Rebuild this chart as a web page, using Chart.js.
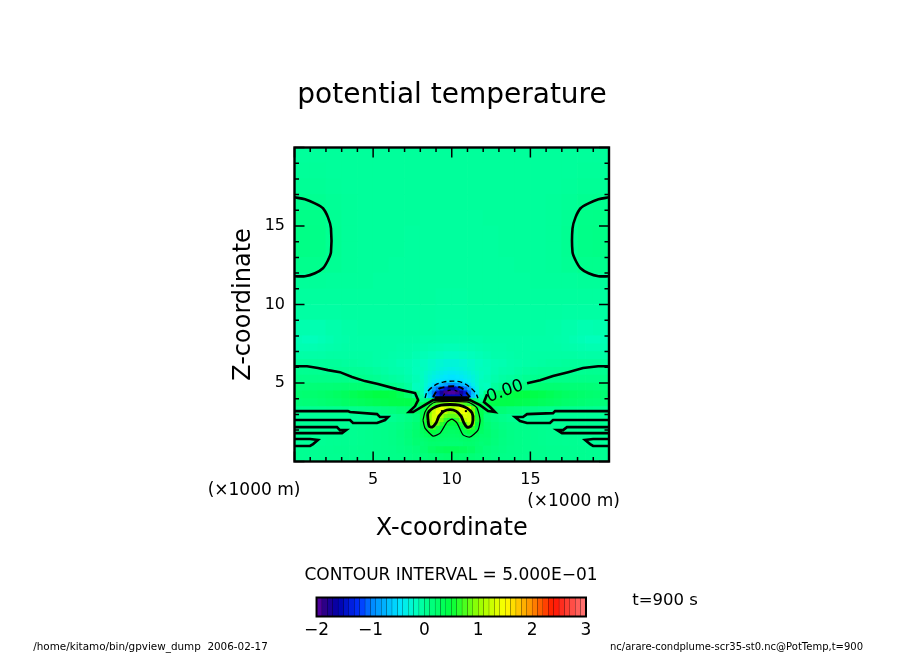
<!DOCTYPE html>
<html>
<head>
<meta charset="utf-8">
<title>potential temperature</title>
<script src="https://cdn.jsdelivr.net/npm/chart.js@4"></script>
<style>
  html, body { margin: 0; padding: 0; background: #fff; overflow: hidden; }
  #plot { position: absolute; left: 0; top: 0; }
  #bar { position: absolute; left: 300px; top: 585px; }
</style>
</head>
<body>
<canvas id="plot" width="904" height="654"></canvas>
<canvas id="bar" width="300" height="60"></canvas>
<script>
// Field values. Rows run from the top of the plot down.
const coarseX = [.5,1.5,2.5,3.5,4.5,5.5,6.5,7.5,8.5,9.5,10.5,11.5,12.5,13.5,14.5,15.5,16.5,17.5,18.5,19.5];
const coarseZ = [19.5,18.5,17.5,16.5,15.5,14.5,13.5,12.5,11.5,10.5,9.5,8.5];
const coarseField = [
  [-.02,-.02,-.02,-.02,-.02,-.02,-.02,-.02,-.02,-.02,-.02,-.02,-.02,-.02,-.02,-.02,-.02,-.02,-.02,-.02],
  [-.01,-.01,-.02,-.02,-.02,-.02,-.02,-.02,-.02,-.02,-.02,-.02,-.02,-.02,-.02,-.02,-.02,-.02,-.01,-.01],
  [0,0,-.01,-.02,-.02,-.02,-.02,-.02,-.02,-.02,-.02,-.02,-.02,-.02,-.02,-.02,-.02,-.01,0,0],
  [.04,.03,0,-.01,-.02,-.02,-.02,-.02,-.02,-.02,-.02,-.02,-.02,-.02,-.02,-.02,-.01,0,.03,.04],
  [.08,.07,.01,-.01,-.02,-.02,-.02,-.02,-.03,-.03,-.03,-.03,-.02,-.02,-.02,-.02,-.01,.01,.07,.08],
  [.09,.08,.02,-.01,-.02,-.02,-.02,-.03,-.03,-.03,-.03,-.03,-.03,-.02,-.02,-.02,-.01,.02,.08,.09],
  [.09,.08,.02,-.01,-.02,-.02,-.02,-.03,-.03,-.03,-.03,-.03,-.03,-.02,-.02,-.02,-.01,.02,.08,.09],
  [.05,.05,.01,-.01,-.02,-.02,-.03,-.03,-.03,-.03,-.03,-.03,-.03,-.03,-.02,-.02,-.01,.01,.05,.05],
  [-.01,-.01,-.02,-.02,-.02,-.03,-.03,-.03,-.03,-.03,-.03,-.03,-.03,-.03,-.03,-.02,-.02,-.02,-.01,-.01],
  [-.03,-.03,-.03,-.03,-.03,-.03,-.03,-.03,-.03,-.04,-.04,-.03,-.03,-.03,-.03,-.03,-.03,-.03,-.03,-.03],
  [-.05,-.05,-.05,-.04,-.04,-.04,-.04,-.04,-.04,-.05,-.05,-.04,-.04,-.04,-.04,-.04,-.04,-.05,-.05,-.05],
  [-.09,-.1,-.08,-.06,-.05,-.05,-.05,-.05,-.05,-.06,-.06,-.05,-.05,-.05,-.05,-.05,-.06,-.08,-.1,-.09]
];

const midX = [.25,.75,1.25,1.75,2.25,2.75,3.25,3.75,4.25,4.75,5.25,5.75,6.25,6.75,7.25,7.75,8.25,8.75,9.25,9.75,
  10.25,10.75,11.25,11.75,12.25,12.75,13.25,13.75,14.25,14.75,15.25,15.75,16.25,16.75,17.25,17.75,18.25,18.75,19.25,19.75];
const midZ = [7.75,7.25,6.75,6.25,5.75,5.25,4.75,4.25,3.75,3.25,2.75,2.25,1.75,1.25,.75,.25];
const midField = [
  [-.12,-.14,-.14,-.12,-.1,-.08,-.07,-.06,-.06,-.06,-.06,-.06,-.06,-.06,-.06,-.06,-.07,-.07,-.08,-.08,-.08,-.08,-.07,-.07,-.06,-.06,-.06,-.06,-.06,-.06,-.06,-.06,-.06,-.07,-.08,-.1,-.12,-.14,-.14,-.12],
  [-.1,-.1,-.1,-.09,-.08,-.07,-.06,-.06,-.06,-.06,-.06,-.06,-.06,-.07,-.07,-.08,-.09,-.1,-.11,-.12,-.12,-.11,-.1,-.09,-.08,-.07,-.07,-.06,-.06,-.06,-.06,-.06,-.06,-.06,-.07,-.08,-.09,-.1,-.1,-.1],
  [-.06,-.06,-.06,-.06,-.05,-.05,-.05,-.05,-.05,-.05,-.06,-.06,-.07,-.08,-.08,-.1,-.12,-.14,-.16,-.18,-.18,-.16,-.14,-.12,-.1,-.08,-.08,-.07,-.06,-.06,-.05,-.05,-.05,-.05,-.05,-.05,-.06,-.06,-.06,-.06],
  [-.02,-.02,-.02,-.02,-.02,-.02,-.03,-.03,-.04,-.05,-.06,-.07,-.08,-.1,-.11,-.13,-.16,-.2,-.24,-.27,-.27,-.24,-.2,-.16,-.13,-.11,-.1,-.08,-.07,-.06,-.05,-.04,-.03,-.03,-.02,-.02,-.02,-.02,-.02,-.02],
  [.03,.03,.03,.02,.02,.01,.01,0,0,-.01,-.03,-.05,-.07,-.08,-.1,-.14,-.2,-.3,-.4,-.45,-.45,-.4,-.3,-.2,-.14,-.1,-.08,-.07,-.05,-.03,-.01,0,0,.01,.01,.02,.02,.03,.03,.03],
  [.08,.08,.08,.08,.08,.07,.07,.06,.06,.04,.02,-.01,-.03,-.05,-.08,-.12,-.3,-.5,-.7,-.8,-.8,-.7,-.5,-.3,-.12,-.08,-.05,-.03,-.01,.02,.04,.06,.06,.07,.07,.08,.08,.08,.08,.08],
  [.15,.16,.17,.18,.18,.19,.2,.2,.2,.18,.14,.1,.06,.02,-.03,-.15,-.5,-.9,-1.3,-1.5,-1.5,-1.3,-.9,-.5,-.15,-.03,.02,.06,.1,.14,.18,.2,.2,.2,.19,.18,.18,.17,.16,.15],
  [.2,.21,.22,.24,.26,.29,.32,.36,.4,.43,.46,.46,.44,.36,.25,.1,-.5,-1.2,-1.8,-1.9,-1.9,-1.8,-1.2,-.5,.1,.25,.36,.44,.46,.46,.43,.4,.36,.32,.29,.26,.24,.22,.21,.2],
  [.16,.17,.18,.2,.22,.24,.27,.3,.32,.35,.38,.4,.42,.42,.42,.4,.6,.9,1.1,1.2,1.2,1.1,.9,.6,.4,.42,.42,.42,.4,.38,.35,.32,.3,.27,.24,.22,.2,.18,.17,.16],
  [.02,.02,.03,.03,.04,.04,.05,.05,.06,.08,.1,.12,.14,.18,.2,.25,.5,.9,1.2,1.4,1.4,1.2,.9,.5,.25,.2,.18,.14,.12,.1,.08,.06,.05,.05,.04,.04,.03,.03,.02,.02],
  [-.01,-.01,-.01,-.01,-.01,-.01,-.01,-.01,-.01,-.01,-.01,0,.03,.06,.1,.15,.3,.6,1,1.3,1.3,1,.6,.3,.15,.1,.06,.03,0,-.01,-.01,-.01,-.01,-.01,-.01,-.01,-.01,-.01,-.01,-.01],
  [.01,.01,.01,.01,.01,.01,.01,.02,.03,.04,.05,.06,.08,.1,.14,.2,.35,.7,1.1,1.3,1.3,1.1,.7,.35,.2,.14,.1,.08,.06,.05,.04,.03,.02,.01,.01,.01,.01,.01,.01,.01],
  [.01,.01,.01,.01,.02,.02,.03,.03,.04,.05,.06,.07,.09,.12,.16,.22,.35,.6,.8,.9,.9,.8,.6,.35,.22,.16,.12,.09,.07,.06,.05,.04,.03,.03,.02,.02,.01,.01,.01,.01],
  [-.01,-.01,-.01,.01,.02,.02,.03,.03,.04,.05,.06,.07,.09,.11,.15,.2,.3,.45,.55,.55,.55,.55,.45,.3,.2,.15,.11,.09,.07,.06,.05,.04,.03,.03,.02,.02,.01,-.01,-.01,-.01],
  [.02,.02,.02,.03,.03,.04,.04,.04,.05,.05,.06,.07,.08,.1,.12,.15,.2,.28,.32,.35,.35,.32,.28,.2,.15,.12,.1,.08,.07,.06,.05,.05,.04,.04,.04,.03,.03,.02,.02,.02],
  [.02,.02,.02,.03,.03,.03,.04,.04,.04,.05,.05,.06,.07,.08,.1,.12,.15,.18,.2,.22,.22,.2,.18,.15,.12,.1,.08,.07,.06,.05,.05,.04,.04,.04,.03,.03,.03,.02,.02,.02]
];

const fineX = [8.125,8.375,8.625,8.875,9.125,9.375,9.625,9.875,10.125,10.375,10.625,10.875,11.125,11.375,11.625,11.875];
const fineZ = [5.875,5.625,5.375,5.125,4.875,4.625,4.375,4.125,3.875,3.625,3.375,3.125,2.875,2.625,2.375,2.125,1.875,1.625,1.375,1.125];
const fineField = [
  [-.14,-.16,-.2,-.22,-.25,-.28,-.3,-.32,-.32,-.3,-.28,-.25,-.22,-.2,-.16,-.14],
  [-.16,-.2,-.24,-.28,-.32,-.35,-.38,-.4,-.4,-.38,-.35,-.32,-.28,-.24,-.2,-.16],
  [-.16,-.22,-.28,-.32,-.36,-.4,-.44,-.46,-.46,-.44,-.4,-.36,-.32,-.28,-.22,-.16],
  [-.14,-.22,-.3,-.36,-.42,-.46,-.48,-.5,-.5,-.48,-.46,-.42,-.36,-.3,-.22,-.14],
  [-.14,-.24,-.36,-.5,-.6,-.72,-.85,-.95,-.95,-.85,-.72,-.6,-.5,-.36,-.24,-.14],
  [-.12,-.3,-.5,-.8,-1,-1.25,-1.45,-1.6,-1.6,-1.45,-1.25,-1,-.8,-.5,-.3,-.12],
  [-.1,-.38,-.7,-1,-1.4,-1.7,-1.9,-1.95,-1.95,-1.9,-1.7,-1.4,-1,-.7,-.38,-.1],
  [-.05,-.4,-.6,-1,-1.3,-1.5,-1.5,-1.5,-1.5,-1.5,-1.5,-1.3,-1,-.6,-.4,-.05],
  [.05,.15,.2,.5,.8,1,1.2,1.3,1.3,1.2,1,.8,.5,.2,.15,.05],
  [.3,.4,.5,.65,.75,.85,.9,.95,.95,.9,.85,.75,.65,.5,.4,.3],
  [.35,.48,.75,1.05,1.3,1.45,1.3,1.15,1.15,1.3,1.45,1.45,1.3,.85,.5,.35],
  [.4,.55,.95,1.25,1.45,1.4,1.15,.95,.95,1.15,1.4,1.45,1.25,.95,.55,.4],
  [.42,.58,1,1.3,1.35,1.05,.85,.8,.8,.85,1.05,1.35,1.3,1,.58,.42],
  [.42,.6,1.02,1.3,1.2,.9,.65,.55,.55,.65,.9,1.2,1.3,1,.6,.42],
  [.38,.55,1,1.15,.9,.65,.5,.48,.45,.5,.6,.85,1.15,.95,.5,.38],
  [.35,.48,.7,.75,.6,.48,.38,.35,.35,.38,.48,.6,.75,.65,.45,.32],
  [.3,.38,.5,.5,.42,.35,.3,.28,.28,.3,.35,.42,.5,.48,.35,.28],
  [.25,.3,.35,.35,.3,.28,.26,.25,.25,.26,.28,.3,.35,.32,.28,.22],
  [.2,.22,.25,.26,.25,.24,.22,.22,.22,.22,.24,.25,.26,.24,.22,.2],
  [.18,.2,.22,.22,.22,.2,.2,.2,.2,.2,.2,.22,.22,.22,.2,.18]
];

// Contours, in the same km units as the axes
const lobeLeftX = [0,.67,1.3,1.81,2.13,2.32,2.32,2.13,1.81,1.3,.67,0];
const lobeLeftZ = [16.83,16.7,16.44,16.13,15.55,14.85,13.33,12.82,12.31,11.99,11.8,11.8];
const lobeRightX = [20,19.33,18.7,18.19,17.87,17.68,17.68,17.87,18.19,18.7,19.33,20];
const lobeRightZ = [16.83,16.7,16.44,16.13,15.55,14.85,13.33,12.82,12.31,11.99,11.8,11.8];
const zeroMainX = [0,.8,1.49,2.13,2.89,3.66,4.48,5.31,6.52,7.67,7.86,7.67,7.28,7.54,8.17,8.81,11.16,11.8,12.31,12.75,12.44,12.05,12.25];
const zeroMainZ = [6.07,6.07,5.95,5.82,5.69,5.38,5.12,4.93,4.61,4.36,3.91,3.53,3.15,3.15,3.53,3.91,3.91,3.59,3.21,3.15,3.47,3.79,4.29];
const zeroRightX = [14.79,15.62,16.44,17.4,18.35,19.31,20];
const zeroRightZ = [4.99,5.18,5.44,5.69,5.95,6.07,6.07];
const tongueL1X = [0,3.4,3.53,5.25,5.44,5.95,5.76,5.25,3.72,3.53,0];
const tongueL1Z = [3.21,3.21,3.15,3.02,2.83,2.83,2.64,2.45,2.45,2.64,2.64];
const tongueL2X = [0,2.7,2.89,3.28,3.02,0];
const tongueL2Z = [2.19,2.19,2,2,1.81,1.81];
const tongueL3X = [0,.99,1.49,1.18,.99,0];
const tongueL3Z = [1.43,1.43,1.37,1.11,.99,.99];
const tongueR1X = [20,16.57,16.44,14.79,14.53,14.03,14.34,14.79,16.25,16.44,20];
const tongueR1Z = [3.21,3.21,3.08,3.02,2.83,2.83,2.58,2.45,2.45,2.64,2.64];
const tongueR2X = [20,17.33,17.08,16.7,17.01,20];
const tongueR2Z = [2.19,2.19,2,2,1.81,1.81];
const tongueR3X = [20,18.99,18.48,18.8,18.99,20];
const tongueR3Z = [1.43,1.43,1.37,1.11,.99,.99];
const capBarX = [8.9,11.1];
const capBarZ = [4.04,4.04];
const oneX = [8.49,8.49,8.81,9.32,9.89,10.46,10.97,11.29,11.35,11.23,10.97,10.78,10.59,10.27,9.89,9.51,9.19,9,8.75,8.56,8.49];
const oneZ = [2.64,3.09,3.4,3.59,3.63,3.59,3.4,3.09,2.64,2.26,2.19,2.45,2.89,3.21,3.31,3.21,2.89,2.45,2.19,2.26,2.64];
const halfX = [8.17,8.3,8.62,9,10.97,11.29,11.61,11.8,11.67,11.16,10.72,10.34,10.02,9.7,9.26,8.81,8.3,8.17];
const halfZ = [2.64,3.15,3.59,3.79,3.79,3.66,3.4,2.64,2,1.56,1.69,2.45,2.7,2.51,1.81,1.62,2.13,2.64];
const peakX = [9.38,10.9];
const peakZ = [3.21,3.21];
const minusHalfX = [8.3,8.43,8.94,9.45,10.02,10.59,10.97,11.48,11.67];
const minusHalfZ = [4.04,4.42,4.87,5.06,5.12,5.06,4.87,4.42,4.04];
const minusOneX = [8.81,9.13,9.57,10.02,10.46,10.72,11.16];
const minusOneZ = [4.1,4.61,4.74,4.8,4.74,4.61,4.1];
const minusOneHalfX = [9.45,9.7,10.02,10.34,10.65];
const minusOneHalfZ = [4.17,4.48,4.55,4.48,4.17];

// Colour bar
const barLevels = [-1.95,-1.85,-1.75,-1.65,-1.55,-1.45,-1.35,-1.25,-1.15,-1.05,-.95,-.85,-.75,-.65,-.55,-.45,-.35,-.25,-.15,-.05,
  .05,.15,.25,.35,.45,.55,.65,.75,.85,.95,1.05,1.15,1.25,1.35,1.45,1.55,1.65,1.75,1.85,1.95,
  2.05,2.15,2.25,2.35,2.45,2.55,2.65,2.75,2.85,2.95];
const barTicks = [-2,-1,0,1,2,3];

const colorStops = [
  [-2, 95, 0, 165], [-1.85, 45, 0, 135], [-1.6, 0, 0, 170], [-1.2, 0, 50, 255], [-.95, 0, 140, 255],
  [-.45, 0, 230, 255], [-.15, 0, 255, 190], [0, 0, 255, 150], [.5, 0, 255, 60], [1, 150, 255, 0],
  [1.5, 255, 255, 0], [2, 255, 140, 0], [2.4, 255, 20, 0], [3, 255, 120, 120]
];

function fieldColor(v) {
  let i = 0;
  while (i < colorStops.length - 2 && v > colorStops[i + 1][0]) i++;
  const a = colorStops[i], b = colorStops[i + 1];
  const t = Math.min(1, Math.max(0, (v - a[0]) / (b[0] - a[0])));
  return 'rgb(' + [1, 2, 3].map(k => Math.round(a[k] + (b[k] - a[k]) * t)).join(',') + ')';
}

function cells(xs, zs, rows, km) {
  const out = [];
  rows.forEach((row, j) => row.forEach((v, i) => out.push({ x: xs[i], y: zs[j], v: v, km: km })));
  return out;
}

function fieldSet(data, order) {
  return {
    data: data,
    order: order,
    pointStyle: 'rect',
    borderWidth: 0,
    pointBorderWidth: 0,
    backgroundColor: c => fieldColor(c.raw.v),
    // rect side is radius * sqrt(2); a little extra hides the seams
    pointRadius: c => (c.chart.scales.x.width / 20 * c.raw.km + 0.7) / Math.SQRT2
  };
}

function contour(xs, zs, width, dash, tension) {
  return {
    data: xs.map((x, i) => ({ x: x, y: zs[i] })),
    order: 0,
    showLine: true,
    pointRadius: 0,
    borderColor: '#000',
    borderWidth: width,
    borderDash: dash || [],
    tension: tension || 0
  };
}

const FONT = '"DejaVu Sans", sans-serif';
const labels = [
  { text: 'potential temperature', x: 452, y: 95.5, size: 28 },
  { text: '(×1000 m)', x: 254, y: 490.5, size: 17 },
  { text: '(×1000 m)', x: 573.5, y: 501.5, size: 17 },
  { text: 'CONTOUR INTERVAL = 5.000E−01', x: 451, y: 575.5, size: 17 },
  { text: 't=900 s', x: 665, y: 601, size: 16.5 },
  { text: '/home/kitamo/bin/gpview_dump  2006-02-17', x: 150.5, y: 647, size: 10.4 },
  { text: 'nc/arare-condplume-scr35-st0.nc@PotTemp,t=900', x: 736.5, y: 647, size: 10 },
  { text: '0.00', x: 505, y: 391.5, size: 17, angle: -20 }
];

// Inward ticks on all four sides plus the frame and loose text
const framePlugin = {
  id: 'frame',
  afterDraw(chart) {
    const { ctx, chartArea: a, scales } = chart;
    ctx.save();
    ctx.strokeStyle = '#000';
    ctx.lineWidth = 1.5;
    scales.x.ticks.forEach(t => {
      const p = scales.x.getPixelForValue(t.value), len = t.value % 5 === 0 ? 10 : 4.5;
      ctx.beginPath();
      ctx.moveTo(p, a.bottom); ctx.lineTo(p, a.bottom - len);
      ctx.moveTo(p, a.top); ctx.lineTo(p, a.top + len);
      ctx.stroke();
    });
    scales.y.ticks.forEach(t => {
      const p = scales.y.getPixelForValue(t.value), len = t.value % 5 === 0 ? 10 : 4.5;
      ctx.beginPath();
      ctx.moveTo(a.left, p); ctx.lineTo(a.left + len, p);
      ctx.moveTo(a.right, p); ctx.lineTo(a.right - len, p);
      ctx.stroke();
    });
    ctx.lineWidth = 2.4;
    ctx.strokeRect(a.left, a.top, a.right - a.left, a.bottom - a.top);
    ctx.fillStyle = '#000';
    ctx.textAlign = 'center';
    ctx.textBaseline = 'middle';
    labels.forEach(l => {
      ctx.save();
      ctx.font = l.size + 'px ' + FONT;
      ctx.translate(l.x, l.y);
      ctx.rotate((l.angle || 0) * Math.PI / 180);
      ctx.fillText(l.text, 0, 0);
      ctx.restore();
    });
    ctx.restore();
  }
};

function axisLabel(v) {
  return (v === 5 || v === 10 || v === 15) ? String(v) : '';
}

new Chart(document.getElementById('plot'), {
  type: 'scatter',
  data: {
    datasets: [
      fieldSet(cells(coarseX, coarseZ, coarseField, 1), 3),
      fieldSet(cells(midX, midZ, midField, .5), 2),
      fieldSet(cells(fineX, fineZ, fineField, .25), 1),
      contour(lobeLeftX, lobeLeftZ, 2.6, null, .3),
      contour(lobeRightX, lobeRightZ, 2.6, null, .3),
      contour(zeroMainX, zeroMainZ, 2.6),
      contour(zeroRightX, zeroRightZ, 2.6),
      contour(tongueL1X, tongueL1Z, 2.6),
      contour(tongueL2X, tongueL2Z, 2.6),
      contour(tongueL3X, tongueL3Z, 2.6),
      contour(tongueR1X, tongueR1Z, 2.6),
      contour(tongueR2X, tongueR2Z, 2.6),
      contour(tongueR3X, tongueR3Z, 2.6),
      contour(capBarX, capBarZ, 3.5),
      contour(oneX, oneZ, 2.8, null, .3),
      contour(halfX, halfZ, 1.2, null, .2),
      contour(minusHalfX, minusHalfZ, 1.4, [5, 3], .3),
      contour(minusOneX, minusOneZ, 2, [6, 4], .3),
      contour(minusOneHalfX, minusOneHalfZ, 1.2, [3, 4], .3),
      Object.assign(contour(peakX, peakZ, 0), { showLine: false, pointRadius: 1.2, backgroundColor: '#000' })
    ]
  },
  options: {
    responsive: false,
    animation: false,
    events: [],
    layout: { padding: { top: 147.5, right: 295, bottom: 0 } },
    plugins: {
      legend: { display: false },
      tooltip: { enabled: false }
    },
    scales: {
      x: {
        type: 'linear', min: 0, max: 20,
        afterFit: s => { s.height = 192.5; },
        grid: { display: false, drawTicks: false },
        border: { display: false },
        ticks: { stepSize: 1, autoSkip: false, maxRotation: 0, padding: 9, color: '#000',
          font: { family: FONT, size: 16 }, callback: axisLabel },
        title: { display: true, text: 'X-coordinate', color: '#000',
          font: { family: FONT, size: 24 }, padding: { top: 0, bottom: 111 } }
      },
      y: {
        type: 'linear', min: 0, max: 20,
        afterFit: s => { s.width = 294.5; },
        grid: { display: false, drawTicks: false },
        border: { display: false },
        ticks: { stepSize: 1, autoSkip: false, padding: 9.5, color: '#000',
          font: { family: FONT, size: 16 }, callback: axisLabel },
        title: { display: true, text: 'Z-coordinate', color: '#000',
          font: { family: FONT, size: 24 }, padding: { top: 229.6, bottom: 0 } }
      }
    }
  },
  plugins: [framePlugin]
});

// Colour bar: one bar per 0.1 level on a black ground
new Chart(document.getElementById('bar'), {
  type: 'bar',
  data: {
    datasets: [{
      data: barLevels.map(v => ({ x: v, y: 1 })),
      backgroundColor: barLevels.map(fieldColor),
      barThickness: 4.5
    }]
  },
  options: {
    responsive: false,
    animation: false,
    events: [],
    layout: { padding: { left: 16, right: 14, top: 12.5, bottom: 0 } },
    plugins: { legend: { display: false }, tooltip: { enabled: false } },
    scales: {
      x: {
        type: 'linear', min: -2, max: 3,
        offset: false,
        afterFit: s => { s.height = 28.5; },
        grid: { display: false, drawTicks: false, offset: false },
        border: { display: false },
        afterBuildTicks: s => { s.ticks = barTicks.map(v => ({ value: v })); },
        ticks: { autoSkip: false, maxRotation: 0, padding: 4, color: '#000',
          font: { family: FONT, size: 17 }, callback: v => String(v).replace('-', '−') }
      },
      y: { display: false, min: 0, max: 1 }
    }
  },
  plugins: [{
    id: 'barFrame',
    beforeDatasetsDraw(chart) {
      const { ctx, chartArea: a } = chart;
      ctx.fillStyle = '#000';
      ctx.fillRect(a.left, a.top, a.right - a.left, a.bottom - a.top);
    },
    afterDraw(chart) {
      const { ctx, chartArea: a } = chart;
      ctx.strokeStyle = '#000';
      ctx.lineWidth = 2;
      ctx.strokeRect(a.left, a.top, a.right - a.left, a.bottom - a.top);
    }
  }]
});
</script>
</body>
</html>
